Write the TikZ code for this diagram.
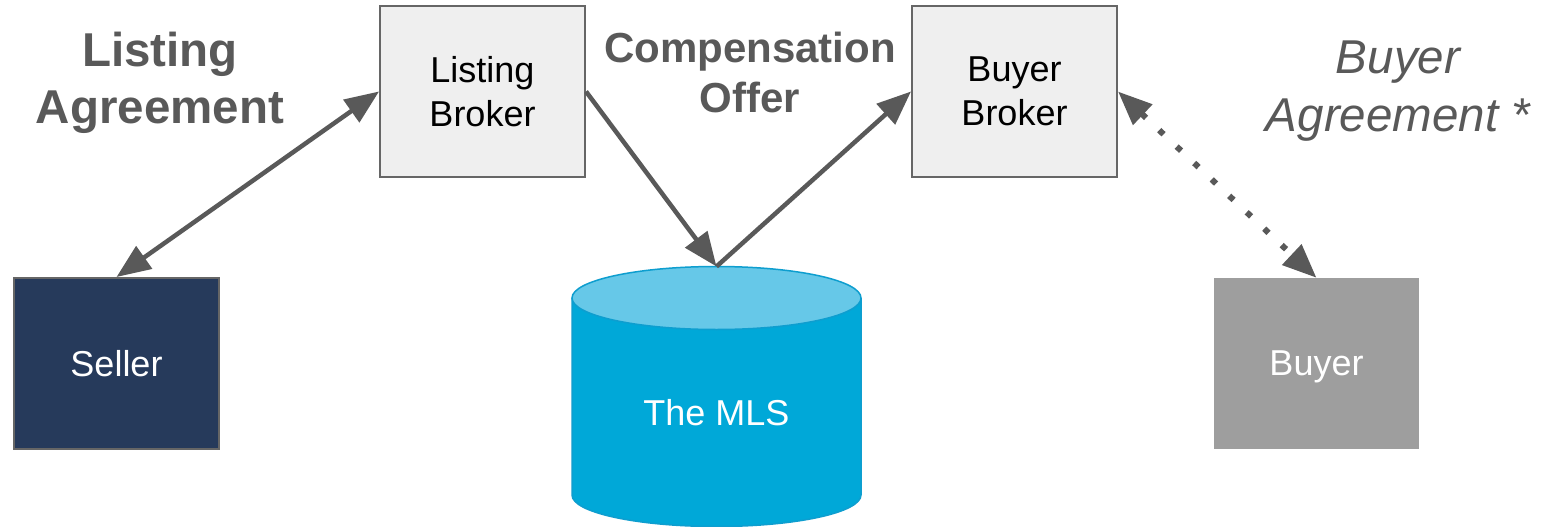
\documentclass[tikz,border=0pt]{standalone}
\usepackage{fontspec}
\setmainfont{Liberation Sans}
\usetikzlibrary{arrows.meta}

\definecolor{linkgray}{HTML}{595959}
\definecolor{boxedge}{HTML}{666666}
\definecolor{brokerfill}{HTML}{EFEFEF}
\definecolor{sellerfill}{HTML}{263A5B}
\definecolor{buyerfill}{HTML}{9E9E9E}
\definecolor{mlsbody}{HTML}{00A8D8}
\definecolor{mlstopfill}{HTML}{66C8E8}
\definecolor{mlsedge}{HTML}{0E9ECF}

\tikzset{
  party/.style={minimum width=205pt, minimum height=171pt, inner sep=0pt,
    align=center, font=\fontsize{36}{44}\selectfont},
  broker/.style={party, draw=boxedge, line width=2pt, fill=brokerfill, text=black},
  seller/.style={party, draw=boxedge, line width=2pt, fill=sellerfill, text=white},
  buyer/.style={party, fill=buyerfill, text=white},
  tag/.style={align=center, text=linkgray, inner sep=0pt},
  link/.style={draw=linkgray, line width=4.5pt,
    -{Triangle[length=34pt, width=27pt]}},
  twoway/.style={link, {Triangle[length=34pt, width=27pt]}-{Triangle[length=34pt, width=27pt]}},
  dotlink/.style={twoway, line width=6pt, dash pattern=on 6pt off 18pt},
}

\begin{document}
\begin{tikzpicture}[x=1pt, y=-1pt]
  \useasboundingbox[fill=white] (0,0) rectangle (1542,527);

  % the MLS database drawn as a cylinder
  \fill[mlsbody] (572,298) -- (572,495)
    arc[start angle=180, end angle=360, x radius=144.5pt, y radius=31.5pt]
    -- (861,298) -- cycle;
  \draw[mlsedge, line width=1.5pt] (572,298) -- (572,495)
    arc[start angle=180, end angle=360, x radius=144.5pt, y radius=31.5pt]
    -- (861,298);
  \filldraw[fill=mlstopfill, draw=mlsedge, line width=1.5pt]
    (716.5,298) ellipse[x radius=144.5pt, y radius=31.5pt];
  \coordinate (mlstop) at (716.5,266.5);
  \node[text=white, font=\fontsize{36}{44}\selectfont, inner sep=0pt] (mls) at (716.5,413) {The MLS};

  % parties
  \node[broker] (lb) at (482.5,91.5) {Listing\\Broker};
  \node[broker] (bb) at (1014.5,91.5) {Buyer\\Broker};
  \node[seller] (seller) at (116.5,363.5) {Seller};
  \node[buyer, text depth=0pt] (buyer) at (1316.5,363.5) {Buyer};

  % agreements and offers
  \draw[twoway] (seller.north) -- (lb.west);
  \draw[link] (lb.east) -- (mlstop);
  \draw[link] (mlstop) -- (bb.west);
  \draw[dotlink] (bb.east) -- (buyer.north);

  % labels
  \node[tag, font=\fontsize{47.5}{57}\selectfont\bfseries] (la) at (160,83) {Listing\\Agreement};
  \node[tag, font=\fontsize{42}{50}\selectfont\bfseries] (co) at (750,72.5) {Compensation\\Offer};
  \node[tag, font=\fontsize{47.5}{58}\selectfont\itshape] (ba) at (1398,91) {Buyer\\Agreement *};
\end{tikzpicture}
\end{document}
